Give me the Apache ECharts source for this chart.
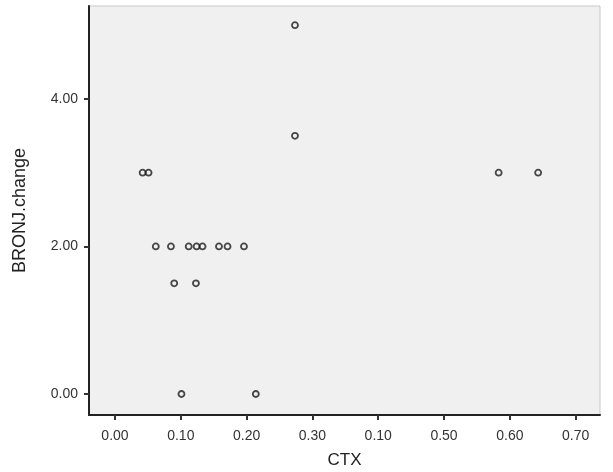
<!DOCTYPE html>
<html>
<head>
<meta charset="utf-8">
<script src="https://cdn.jsdelivr.net/npm/echarts@6/dist/echarts.min.js"></script>
<style>html,body{margin:0;padding:0;background:#fff;}#c{width:613px;height:472px;}</style>
</head>
<body>
<div id="c"></div>
<script>
const ctx = [0.042, 0.051, 0.062, 0.085, 0.112, 0.124, 0.133, 0.158, 0.171, 0.196, 0.090, 0.123, 0.101, 0.214, 0.2735, 0.2735, 0.583, 0.643];
const bronjChange = [3, 3, 2, 2, 2, 2, 2, 2, 2, 2, 1.5, 1.5, 0, 0, 5, 3.5, 3, 3];
const xTickValues = [0, 0.1, 0.2, 0.3, 0.4, 0.5, 0.6, 0.7];
const xTickLabels = ['0.00', '0.10', '0.20', '0.30', '0.10', '0.50', '0.60', '0.70'];
const yTickValues = [0, 2, 4];
const yTickLabels = ['0.00', '2.00', '4.00'];

const points = ctx.map((v, i) => [v, bronjChange[i]]);
const chart = echarts.init(document.getElementById('c'), null, {renderer: 'canvas'});
const font = 'Liberation Sans, Arial, sans-serif';
chart.setOption({
  animation: false,
  backgroundColor: '#ffffff',
  grid: {left: 89, top: 6, right: 13, bottom: 57, containLabel: false, outerBoundsMode: 'none',
    show: true, backgroundColor: '#f0f0f0', borderColor: '#c8c8c8', borderWidth: 1},
  xAxis: {
    type: 'value', min: -0.0395, max: 0.737,
    name: 'CTX', nameLocation: 'middle', nameGap: 37,
    nameTextStyle: {fontFamily: font, fontSize: 17, color: '#222'},
    axisLine: {show: true, onZero: false, lineStyle: {color: '#222', width: 2}},
    axisTick: {show: true, customValues: xTickValues, length: 5, lineStyle: {color: '#333', width: 2}},
    axisLabel: {customValues: xTickValues, margin: 14, fontFamily: font, fontSize: 14, color: '#333',
      formatter: v => { const i = xTickValues.findIndex(t => Math.abs(t - v) < 1e-6); return i >= 0 ? xTickLabels[i] : ''; }},
    splitLine: {show: false}
  },
  yAxis: {
    type: 'value', min: -0.285, max: 5.26,
    name: 'BRONJ.change', nameLocation: 'middle', nameGap: 60,
    nameTextStyle: {fontFamily: font, fontSize: 18, color: '#222'},
    axisLine: {show: true, onZero: false, lineStyle: {color: '#222', width: 2}},
    axisTick: {show: true, customValues: yTickValues, length: 5, lineStyle: {color: '#333', width: 2}},
    axisLabel: {customValues: yTickValues, margin: 11, fontFamily: font, fontSize: 14, color: '#333',
      formatter: v => { const i = yTickValues.findIndex(t => Math.abs(t - v) < 1e-6); return i >= 0 ? yTickLabels[i] : ''; }},
    splitLine: {show: false}
  },
  series: [{
    type: 'scatter', data: points, symbol: 'circle', symbolSize: 6,
    itemStyle: {color: 'rgba(240,240,240,0)', borderColor: '#1a1a1a', borderWidth: 1.8}
  }]
});
</script>
</body>
</html>
